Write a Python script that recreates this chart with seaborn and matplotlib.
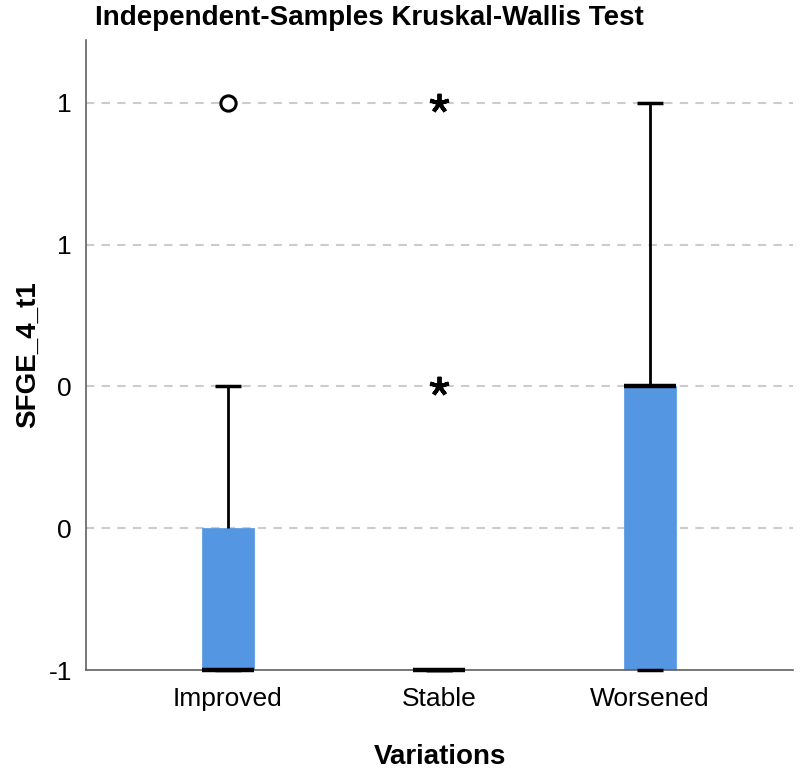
import numpy as np
import pandas as pd
import seaborn as sns
import matplotlib
matplotlib.use("Agg")
import matplotlib.pyplot as plt
from matplotlib.ticker import FixedLocator, FixedFormatter

# ---- data ----
categories = ["Improved", "Stable", "Worsened"]
improved_vals = [-1, -1, -1, -1, -1, -1, -1, -0.5, -0.5, -0.5, 0, 1]
stable_vals = [-1, -1, -1, -1, -1, -1, -1, -1, -1, -1, 0, 1]
worsened_vals = [-1, -1, -1, 0, 0, 0, 0, 0, 1]
# outliers shown by SPSS (circle = outlier, asterisk = extreme)
outlier_cat = ["Improved", "Stable", "Stable"]
outlier_val = [1, 1, 0]
outlier_kind = ["outlier", "extreme", "extreme"]
ytick_vals = [-1, -0.5, 0, 0.5, 1]
ytick_labels = ["-1", "0", "0", "1", "1"]

title = "Independent-Samples Kruskal-Wallis Test"
xlabel = "Variations"
ylabel = "SFGE_4_t1"

df = pd.DataFrame({
    "Variations": (["Improved"] * len(improved_vals) + ["Stable"] * len(stable_vals)
                   + ["Worsened"] * len(worsened_vals)),
    "value": improved_vals + stable_vals + worsened_vals,
})

sns.set_theme(style="white")
plt.rcParams["font.family"] = ["Liberation Sans", "DejaVu Sans"]
plt.rcParams["text.color"] = "black"
plt.rcParams["axes.labelcolor"] = "black"

fig = plt.figure(figsize=(8, 7.76), dpi=100)
ax = fig.add_axes([86 / 800, 1 - 670 / 776, (793 - 86) / 800, (670 - 40) / 776])

blue = "#5596E3"
sns.boxplot(data=df, x="Variations", y="value", order=categories, ax=ax,
            width=0.25, color=blue, saturation=1, showfliers=False, whis=1.5,
            boxprops=dict(facecolor=blue, edgecolor=blue, linewidth=0.5),
            medianprops=dict(color="black", linewidth=3.2, solid_capstyle="butt"),
            whiskerprops=dict(color="black", linewidth=2),
            capprops=dict(color="black", linewidth=2.5, solid_capstyle="butt"))

for ln in ax.lines:
    ln.set_clip_on(False)
    ln.set_zorder(4)

# outlier markers
for c, v, k in zip(outlier_cat, outlier_val, outlier_kind):
    xpos = categories.index(c)
    if k == "outlier":
        ax.plot([xpos], [v], marker="o", markersize=11, markerfacecolor="white",
                markeredgecolor="black", markeredgewidth=2.2, zorder=5, linestyle="none")
    else:
        ax.plot([xpos], [v], marker=(5, 2, 0), markersize=14, color="black",
                markeredgewidth=2.8, zorder=5, linestyle="none")

ax.set_xlim(-0.673, 2.678)
ax.set_ylim(-1, 1.222)
ax.yaxis.set_major_locator(FixedLocator(ytick_vals))
ax.yaxis.set_major_formatter(FixedFormatter(ytick_labels))

for y in ytick_vals[1:]:
    ax.axhline(y, color="#cccccc", linestyle=(0, (4, 3.5)), linewidth=1.5, zorder=0)

for s in ["top", "right"]:
    ax.spines[s].set_visible(False)
for s in ["left", "bottom"]:
    ax.spines[s].set_color("#606060")
    ax.spines[s].set_linewidth(1.2)

ax.tick_params(axis="both", length=0, labelsize=19, colors="black")
ax.tick_params(axis="x", pad=12)
ax.tick_params(axis="y", pad=10)
ax.set_xlabel(xlabel, fontsize=20, fontweight="bold")
ax.set_ylabel(ylabel, fontsize=20, fontweight="bold")
ax.xaxis.set_label_coords(0.5, -(757 - 670) / 630, transform=ax.transAxes)
ax.yaxis.set_label_coords(-(86 - 28) / 707, 0.5, transform=ax.transAxes)
ax.xaxis.label.set_va("center")
ax.yaxis.label.set_va("center")
fig.text(95 / 800, 1 - 18 / 776, title, fontsize=20, fontweight="bold",
         ha="left", va="center")

fig.savefig("out.png", dpi=100)
